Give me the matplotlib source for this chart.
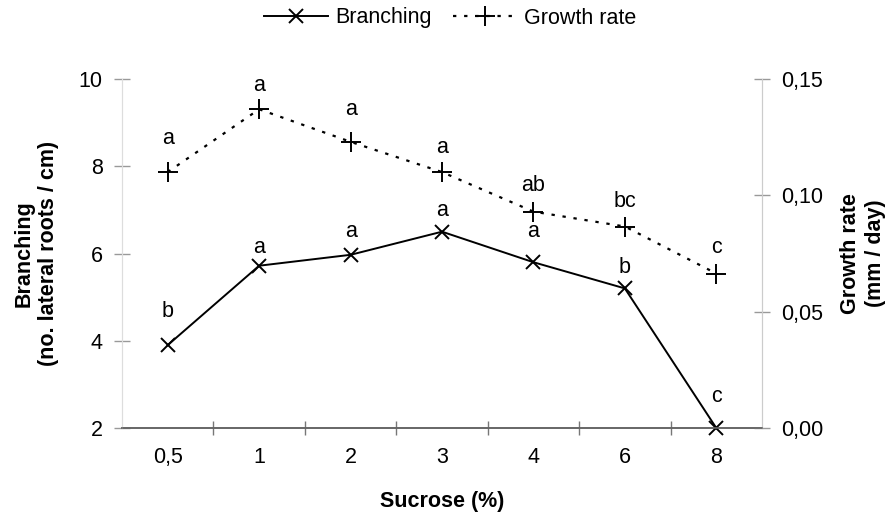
import matplotlib
matplotlib.use("Agg")
import matplotlib.pyplot as plt
from matplotlib.lines import Line2D
import numpy as np

plt.rcParams['font.family'] = ['Liberation Sans', 'DejaVu Sans']

categories = ["0,5", "1", "2", "3", "4", "6", "8"]
branching = [3.9, 5.72, 5.97, 6.5, 5.8, 5.2, 2.0]
growth = [0.110, 0.137, 0.123, 0.110, 0.093, 0.0866, 0.0664]
branch_letters = ["b", "a", "a", "a", "a", "b", "c"]
growth_letters = ["a", "a", "a", "a", "ab", "bc", "c"]
left_ticks = [2, 4, 6, 8, 10]
right_ticks = [0.0, 0.05, 0.10, 0.15]
right_labels = ["0,00", "0,05", "0,10", "0,15"]

# label offsets in points (style)
branch_off = [24, 13, 17, 15, 22, 15, 23]
growth_off = [24, 17, 23, 18, 19, 18, 19]

FS = 15.5
fig = plt.figure(figsize=(8.93, 5.2), dpi=100)
ax = fig.add_axes([122/893, 1-428/520, (762-122)/893, (428-79)/520])
ax2 = ax.twinx()

x = np.arange(len(categories))
ax.plot(x, branching, color='black', lw=1.4, marker='x', ms=10, mew=1.4, clip_on=False, zorder=3)
ax2.plot(x, growth, color='black', lw=1.6, ls=(0, (1.5, 3.5)), marker='+', ms=14, mew=1.4, clip_on=False, zorder=3)

for xi, v, t, o in zip(x, branching, branch_letters, branch_off):
    ax.annotate(t, (xi, v), xytext=(0, o), textcoords='offset points', ha='center', va='center', fontsize=FS)
for xi, v, t, o in zip(x, growth, growth_letters, growth_off):
    ax2.annotate(t, (xi, v), xytext=(0, o), textcoords='offset points', ha='center', va='center', fontsize=FS)

ax.set_xlim(-0.5, len(categories) - 0.5)
ax.set_ylim(2, 10)
ax2.set_ylim(0, 0.15)
ax.set_xticks(x)
ax.set_xticklabels(categories, fontsize=FS)
ax.set_xticks(np.arange(0.5, len(categories) - 1, 1), minor=True)
ax.tick_params(axis='x', which='major', length=0, pad=14)
ax.tick_params(axis='x', which='minor', length=10, direction='inout', color='#777777', width=1)
ax.set_yticks(left_ticks)
ax.set_yticklabels([str(t) for t in left_ticks], fontsize=FS)
ax.tick_params(axis='y', length=12, direction='inout', color='#999999', width=1, pad=8)
ax2.set_yticks(right_ticks)
ax2.set_yticklabels(right_labels, fontsize=FS)
ax2.tick_params(axis='y', length=12, direction='inout', color='#999999', width=1, pad=8)

for a in (ax, ax2):
    a.spines['top'].set_visible(False)
    a.spines['left'].set_color('#dddddd')
    a.spines['right'].set_color('#cccccc')
    a.spines['bottom'].set_color('#666666')
    a.spines['bottom'].set_linewidth(1.2)

ax.set_xlabel("Sucrose (%)", fontsize=FS, fontweight='bold', labelpad=16)
ax.set_ylabel("Branching\n(no. lateral roots / cm)", fontsize=FS, fontweight='bold', labelpad=14)
ax2.set_ylabel("Growth rate\n(mm / day)", fontsize=FS, fontweight='bold', labelpad=12)

handles = [Line2D([], [], color='black', lw=1.4, marker='x', ms=10, mew=1.4),
           Line2D([], [], color='black', lw=1.6, ls=(0, (1.5, 3.5)), marker='+', ms=14, mew=1.4)]
fig.legend(handles, ["Branching", "Growth rate"], loc='center', bbox_to_anchor=(450/893, 1-18/520),
           ncol=2, frameon=False, fontsize=FS, handlelength=3, handletextpad=0.3, columnspacing=1.0)

fig.savefig("out.png", dpi=100)
